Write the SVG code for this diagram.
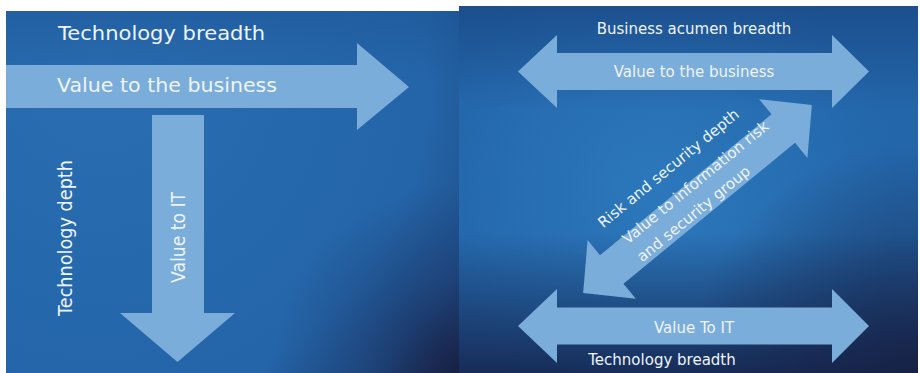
<svg xmlns="http://www.w3.org/2000/svg" width="920" height="373" viewBox="0 0 920 373">
<defs>
<radialGradient id="bgL" gradientUnits="userSpaceOnUse" cx="100" cy="80" r="480">
<stop offset="0" stop-color="#2a6db1"/>
<stop offset="0.68" stop-color="#2465a9"/>
<stop offset="0.84" stop-color="#20528f"/>
<stop offset="1" stop-color="#1c2b55"/>
</radialGradient>
<linearGradient id="topL" x1="0" y1="0" x2="0" y2="1">
<stop offset="0" stop-color="#1a5292" stop-opacity="0.45"/>
<stop offset="0.2" stop-color="#1a5292" stop-opacity="0"/>
</linearGradient>
<radialGradient id="cornerL" gradientUnits="userSpaceOnUse" cx="459" cy="373" r="190">
<stop offset="0" stop-color="#171d3e" stop-opacity="0.85"/>
<stop offset="0.5" stop-color="#1a2a55" stop-opacity="0.35"/>
<stop offset="1" stop-color="#1a2a55" stop-opacity="0"/>
</radialGradient>
<radialGradient id="glowR" gradientUnits="userSpaceOnUse" cx="660" cy="190" r="240">
<stop offset="0" stop-color="#2e7bbf" stop-opacity="0.85"/>
<stop offset="1" stop-color="#2e7bbf" stop-opacity="0"/>
</radialGradient>
<linearGradient id="vR" x1="0" y1="0" x2="0" y2="1">
<stop offset="0" stop-color="#163f7a" stop-opacity="0.6"/>
<stop offset="0.28" stop-color="#163f7a" stop-opacity="0"/>
<stop offset="0.62" stop-color="#15264d" stop-opacity="0"/>
<stop offset="1" stop-color="#15224a" stop-opacity="0.85"/>
</linearGradient>
<radialGradient id="cornerR" gradientUnits="userSpaceOnUse" cx="918" cy="373" r="230">
<stop offset="0" stop-color="#161c3c" stop-opacity="0.7"/>
<stop offset="1" stop-color="#161c3c" stop-opacity="0"/>
</radialGradient>
<style>
.arrow{fill:#7badda}
.lbl{font-family:"DejaVu Sans","Verdana",sans-serif;fill:#eef4fb}
.big{font-size:19px}
.sm{font-size:15px}
.mid{text-anchor:middle}
</style>
</defs>
<rect x="0" y="0" width="920" height="373" fill="#ffffff"/>
<g id="panel-left">
<rect x="6" y="11" width="453" height="362" fill="url(#bgL)"/>
<rect x="6" y="11" width="453" height="362" fill="url(#topL)"/>
<rect x="6" y="11" width="453" height="362" fill="url(#cornerL)"/>
</g>
<g id="panel-right">
<rect x="459" y="6" width="459" height="367" fill="#2366aa"/>
<rect x="459" y="6" width="459" height="367" fill="url(#glowR)"/>
<rect x="459" y="6" width="459" height="367" fill="url(#vR)"/>
<rect x="459" y="6" width="459" height="367" fill="url(#cornerR)"/>
</g>
<g id="connectors">
<polygon id="arrow-value-business-left" class="arrow" points="6,65 357,65 357,43 409,87 357,130 357,108 6,108"/>
<polygon id="arrow-value-it-left" class="arrow" points="152,115 204,115 204,313 235,313 177.5,362 120,313 152,313"/>
<polygon id="arrow-value-business-right" class="arrow" points="518,71.5 557,35 557,53 832,53 832,35 869,71.5 832,108 832,90 557,90 557,108"/>
<polygon id="arrow-value-it-right" class="arrow" points="518,326 557,289 557,307.5 832,307.5 832,289 869,326 832,363 832,344.5 557,344.5 557,363"/>
<polygon id="arrow-risk" class="arrow" transform="translate(697.5,199) rotate(-39.4)" points="-148,0 -111,-38 -111,-18.5 111,-18.5 111,-38 148,0 111,38 111,18.5 -111,18.5 -111,38"/>
</g>
<g id="label-technology-breadth-left">
<text class="lbl big" x="58" y="40" textLength="207" lengthAdjust="spacingAndGlyphs">Technology breadth</text>
</g>
<g id="label-value-business-left">
<text class="lbl big" x="57" y="92" textLength="220" lengthAdjust="spacingAndGlyphs">Value to the business</text>
</g>
<g id="label-technology-depth">
<text class="lbl big" transform="translate(72,316) rotate(-90)" x="0" y="0" textLength="156" lengthAdjust="spacingAndGlyphs">Technology depth</text>
</g>
<g id="label-value-it-left">
<text class="lbl big" transform="translate(185,283) rotate(-90)" x="0" y="0" textLength="91" lengthAdjust="spacingAndGlyphs">Value to IT</text>
</g>
<g id="label-business-acumen">
<text class="lbl sm mid" x="694" y="34">Business acumen breadth</text>
</g>
<g id="label-value-business-right">
<text class="lbl sm mid" x="694" y="77">Value to the business</text>
</g>
<g id="label-value-it-right">
<text class="lbl sm mid" x="694" y="333">Value To IT</text>
</g>
<g id="label-technology-breadth-right">
<text class="lbl sm mid" x="662" y="365">Technology breadth</text>
</g>
<g id="label-risk" transform="translate(697.5,199) rotate(-39.4)">
<text class="lbl sm mid" x="-3" y="-37">Risk and security depth</text>
<text class="lbl sm" x="-83" y="-9">Value to information risk</text>
<text class="lbl sm" x="-83" y="14">and security group</text>
</g>
</svg>
